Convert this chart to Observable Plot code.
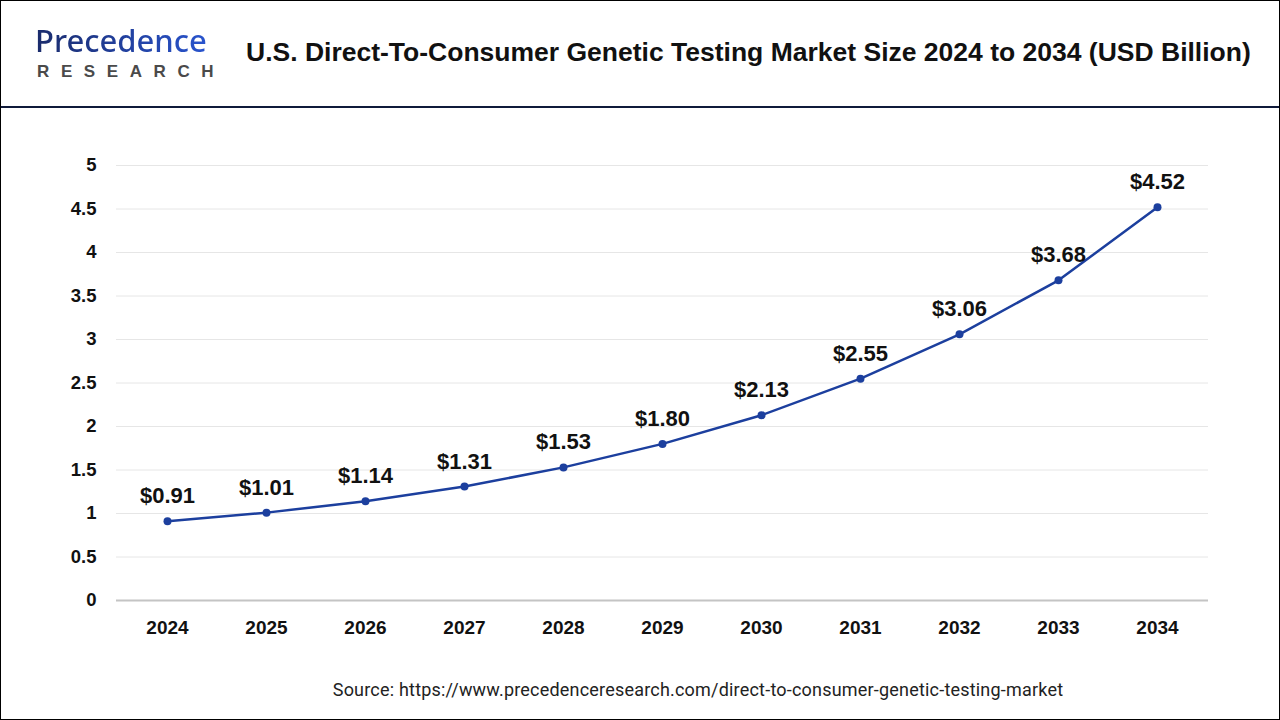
<!DOCTYPE html>
<html><head><meta charset="utf-8">
<script src="https://cdn.jsdelivr.net/npm/d3@7"></script>
<script src="https://cdn.jsdelivr.net/npm/@observablehq/plot@0.6"></script>
<style>
html,body{margin:0;padding:0;background:#fff;}
#wrap{position:relative;width:1280px;height:720px;box-sizing:border-box;border:1px solid #000;overflow:hidden;font-family:"Liberation Sans",Arial,sans-serif;}
#header{height:105px;border-bottom:2px solid #0f1a3a;position:relative;}
#logo{position:absolute;left:34px;top:20px;}
#logo .p{font-family:"Noto Sans",sans-serif;font-size:31px;font-weight:500;line-height:38px;height:38px;background:linear-gradient(90deg,#1a2b6b,#2a58d8);-webkit-background-clip:text;background-clip:text;color:transparent;}
#logo .r{font-family:"Liberation Sans",Arial,sans-serif;font-size:17px;line-height:17px;font-weight:bold;color:#4a4a4a;letter-spacing:11.6px;margin-top:4px;margin-left:2px;}
#title{position:absolute;left:245px;top:36px;font-size:26.5px;font-weight:bold;color:#111;white-space:nowrap;}
#chart{position:absolute;left:0;top:107px;}
#caption{position:absolute;left:0;width:1394px;top:678px;text-align:center;font-size:18px;letter-spacing:0.2px;color:#222;font-family:"Roboto","Liberation Sans",sans-serif;}
</style></head>
<body>
<div id="wrap">
  <div id="header">
    <div id="logo"><div class="p">Precedence</div><div class="r">RESEARCH</div></div>
    <div id="title">U.S. Direct-To-Consumer Genetic Testing Market Size 2024 to 2034 (USD Billion)</div>
  </div>
  <div id="chart"></div>
  <div id="caption">Source: https://www.precedenceresearch.com/direct-to-consumer-genetic-testing-market</div>
</div>
<script>
const years = ["2024","2025","2026","2027","2028","2029","2030","2031","2032","2033","2034"];
const values = [0.91,1.01,1.14,1.31,1.53,1.80,2.13,2.55,3.06,3.68,4.52];
const yTicks = [0,0.5,1,1.5,2,2.5,3,3.5,4,4.5,5];
const data = years.map((y,i)=>({year:y,value:values[i]}));
const lineColor = "#1c3f9e";

const chart = Plot.plot({
  width:1278,
  height:560,
  marginTop:57,
  marginBottom:68,
  marginLeft:115,
  marginRight:71,
  style:{fontFamily:"'Liberation Sans',Arial,sans-serif",background:"#fff"},
  x:{type:"point",domain:years,padding:0.5,label:null},
  y:{domain:[0,5],label:null},
  marks:[
    Plot.gridY(yTicks,{stroke:"#e6e6e6",strokeOpacity:1,strokeWidth:1}),
    Plot.ruleY([0],{stroke:"#c4c4c4",strokeWidth:2}),
    Plot.axisY(yTicks,{tickSize:0,tickPadding:20,fontSize:18.5,fontWeight:"bold",fill:"#111",tickFormat:d=>String(d),label:null,style:{letterSpacing:"0.6px"}}),
    Plot.axisX(years,{tickSize:0,tickPadding:20,fontSize:19,fontWeight:"bold",fill:"#111",label:null,style:{letterSpacing:"0.8px"}}),
    Plot.line(data,{x:"year",y:"value",stroke:lineColor,strokeWidth:2.5}),
    Plot.dot(data,{x:"year",y:"value",fill:lineColor,r:4}),
    Plot.text(data,{x:"year",y:"value",text:d=>"$"+d.value.toFixed(2),dy:-25,fontSize:22,fontWeight:"bold",fill:"#111",style:{letterSpacing:"0.5px"}})
  ]
});
document.getElementById("chart").appendChild(chart);
</script>
</body></html>
